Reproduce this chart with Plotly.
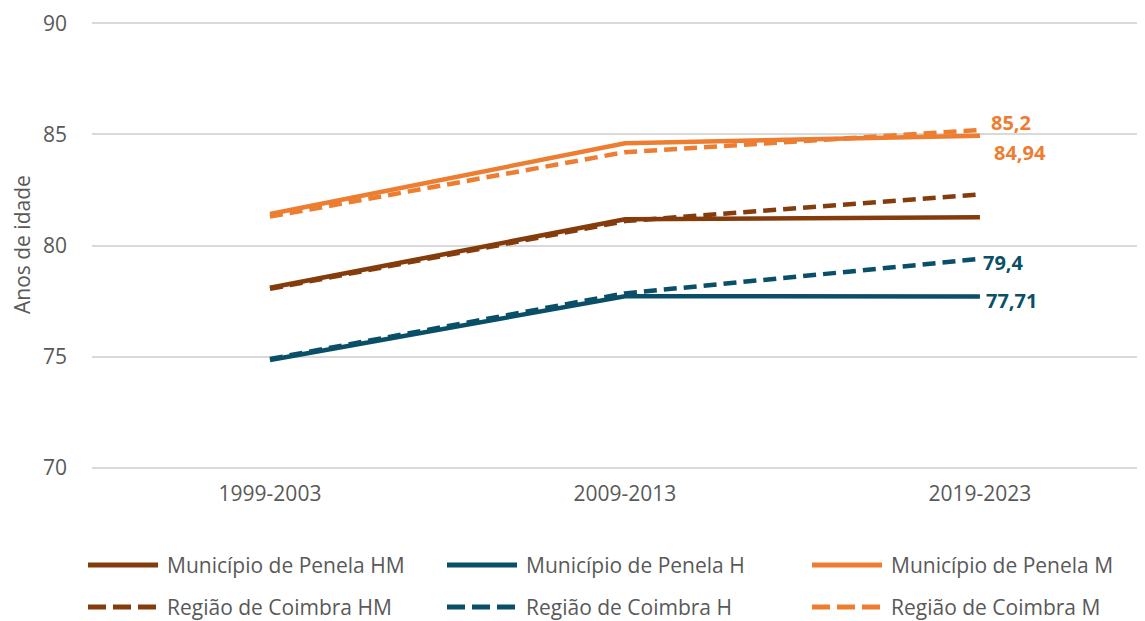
import plotly.graph_objects as go

# Dados (esperança de vida, anos de idade)
periodos = ["1999-2003", "2009-2013", "2019-2023"]

penela_hm = [78.1, 81.18, 81.27]
penela_h = [74.85, 77.72, 77.71]
penela_m = [81.42, 84.6, 84.94]
regiao_hm = [78.05, 81.1, 82.3]
regiao_h = [74.9, 77.85, 79.4]
regiao_m = [81.3, 84.2, 85.2]

y_ticks = [70, 75, 80, 85, 90]

CASTANHO = "#843C0C"
AZUL = "#0A4F68"
LARANJA = "#ED7D31"
CINZA = "#595959"
FONTE = "Open Sans"

series = [
    ("Município de Penela HM", penela_hm, CASTANHO, "solid"),
    ("Município de Penela H", penela_h, AZUL, "solid"),
    ("Município de Penela M", penela_m, LARANJA, "solid"),
    ("Região de Coimbra HM", regiao_hm, CASTANHO, "13px,7px"),
    ("Região de Coimbra H", regiao_h, AZUL, "13px,7px"),
    ("Região de Coimbra M", regiao_m, LARANJA, "13px,7px"),
]

fig = go.Figure()
for nome, valores, cor, traco in series:
    fig.add_trace(go.Scatter(
        x=periodos, y=valores, name=nome, mode="lines",
        line=dict(color=cor, width=4.5, dash=traco),
        showlegend=False,
    ))

# Rótulos dos valores finais
rotulos = [
    (regiao_m[-1], LARANJA, 9, 7),
    (penela_m[-1], LARANJA, 12, -17),
    (regiao_h[-1], AZUL, 1, -4),
    (penela_h[-1], AZUL, 4, -4),
]
for valor, cor, dx, dy in rotulos:
    fig.add_annotation(
        x=periodos[-1], y=valor, xref="x", yref="y",
        text="<b>" + str(valor).replace(".", ",") + "</b>",
        showarrow=False, xanchor="left", yanchor="middle",
        xshift=dx, yshift=dy,
        font=dict(family=FONTE, size=20, color=cor),
    )

# área do gráfico em píxeis (a página tem 8px de margem)
LARG, ALT = 1137, 613
Y_MIN, Y_MAX = 69.95, 90.1
PX_UNIDADE = 22.25
L = 84
T = round(15 - (Y_MAX - 90) * PX_UNIDADE)
H = round((Y_MAX - Y_MIN) * PX_UNIDADE)
W = LARG - L

def px_x(p):
    return (p - L) / W

def px_y(p):
    return (T + H - p) / H

# Legenda manual (3 colunas x 2 linhas)
colunas = [80, 439, 804]
linhas = [557, 599]
for i, (nome, valores, cor, traco) in enumerate(series):
    x0 = colunas[i % 3]
    y0 = linhas[i // 3]
    dash = "solid" if traco == "solid" else "18px,7px"
    fig.add_shape(
        type="line", xref="paper", yref="paper",
        x0=px_x(x0), x1=px_x(x0 + 70), y0=px_y(y0), y1=px_y(y0),
        line=dict(color=cor, width=5, dash=dash),
    )
    fig.add_annotation(
        x=px_x(x0 + 77), y=px_y(y0), xref="paper", yref="paper",
        text=nome, showarrow=False, xanchor="left", yanchor="middle",
        font=dict(family=FONTE, size=21, color=CINZA),
    )

fig.add_annotation(
    x=px_x(14), y=px_y(237), xref="paper", yref="paper",
    text="Anos de idade", textangle=-90, showarrow=False,
    xanchor="center", yanchor="middle",
    font=dict(family=FONTE, size=21, color=CINZA),
)

fig.update_layout(
    width=LARG, height=ALT,
    margin=dict(l=L, r=0, t=T, b=ALT - T - H),
    plot_bgcolor="white", paper_bgcolor="white",
    font=dict(family=FONTE, size=21, color=CINZA),
    xaxis=dict(
        range=[-0.5014, 2.465], showgrid=False, zeroline=False,
        showline=False, ticks="", ticklabelstandoff=10,
        tickfont=dict(size=21, color=CINZA),
    ),
    yaxis=dict(
        range=[Y_MIN, Y_MAX], tickvals=y_ticks, showgrid=True,
        gridcolor="#D9D9D9", gridwidth=1.5, zeroline=False,
        showline=False, ticks="", ticklabelstandoff=24,
        tickfont=dict(size=21, color=CINZA),
    ),
)

fig.write_html("out.html")
